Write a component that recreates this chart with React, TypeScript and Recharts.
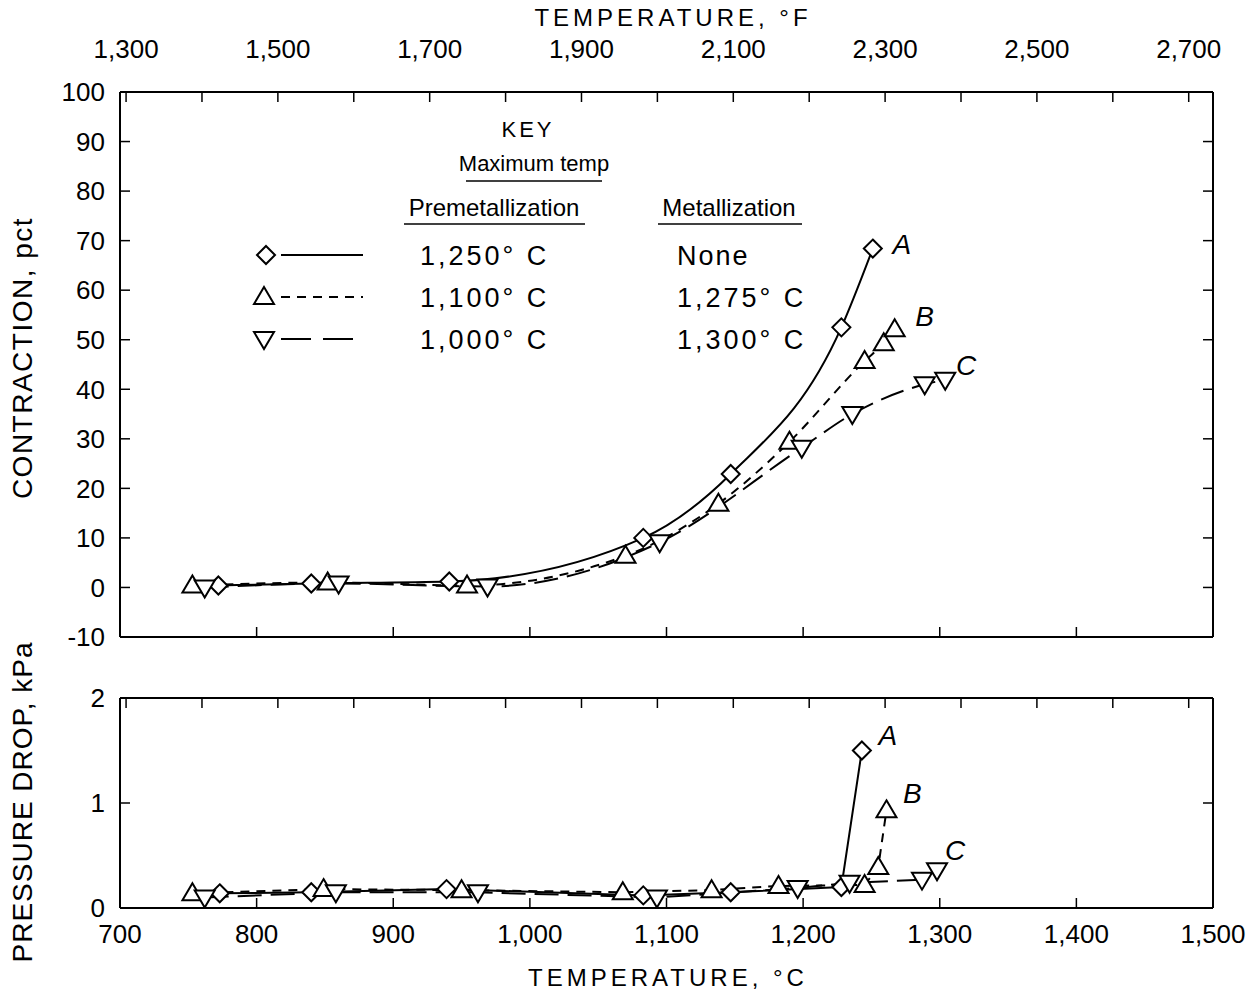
import React from 'react';
import { LineChart, Line, XAxis, YAxis, LabelList } from 'recharts';

const FONT = '"Liberation Sans", Arial, sans-serif';

// ---- axis ticks ----
const celsiusTicks = [700, 800, 900, 1000, 1100, 1200, 1300, 1400, 1500];
const fahrenheitTicks = [1300, 1400, 1500, 1600, 1700, 1800, 1900, 2000, 2100, 2200, 2300, 2400, 2500, 2600, 2700];
const contractionTicks = [-10, 0, 10, 20, 30, 40, 50, 60, 70, 80, 90, 100];
const pressureTicks = [0, 1, 2];

const seriesTags = ['A', 'B', 'C'];

// ---- contraction panel (temperature °C, contraction pct) ----
const contractionTempA = [772, 840, 941, 1083, 1147, 1228, 1251];
const contractionA = [0.4, 0.8, 1.2, 10, 22.9, 52.5, 68.4];
const contractionTempB = [753, 852, 954, 1070, 1138, 1190, 1245, 1259, 1267];
const contractionB = [0.4, 1.0, 0.4, 6.4, 16.9, 29.4, 45.7, 49.3, 52.1];
const contractionTempC = [762, 860, 969, 1095, 1199, 1236, 1289, 1304];
const contractionC = [0, 0.8, 0.2, 9.1, 28.2, 35, 41, 41.9];

// ---- pressure drop panel (temperature °C, kPa) ----
const pressureTempA = [773, 840, 939, 1083, 1147, 1228, 1243];
const pressureA = [0.14, 0.15, 0.18, 0.12, 0.15, 0.2, 1.5];
const pressureTempB = [753, 849, 950, 1068, 1133, 1182, 1245, 1255, 1261];
const pressureB = [0.14, 0.18, 0.17, 0.15, 0.17, 0.21, 0.22, 0.39, 0.93];
const pressureTempC = [762, 858, 962, 1093, 1196, 1234, 1287, 1298];
const pressureC = [0.1, 0.15, 0.15, 0.1, 0.19, 0.24, 0.27, 0.36];

const zip = (xs: number[], ys: number[], tag: string) =>
  xs.map((t, i) => ({ t, v: ys[i], tag: i === xs.length - 1 ? tag : undefined }));

const fToC = (f: number) => ((f - 32) * 5) / 9;
const fahrenheitTicksInC = fahrenheitTicks.map(fToC);
const withComma = (n: number) => (n >= 1000 ? n.toLocaleString('en-US') : String(n));
const fLabel = (c: number) => {
  const f = Math.round((c * 9) / 5 + 32);
  return (f - 1300) % 200 === 0 ? withComma(f) : '';
};

type Shape = 'diamond' | 'up' | 'down';
const Marker = ({ cx, cy, shape }: { cx: number; cy: number; shape: Shape }) => {
  let pts = '';
  if (shape === 'diamond') pts = `${cx},${cy - 9} ${cx + 9},${cy} ${cx},${cy + 9} ${cx - 9},${cy}`;
  else if (shape === 'up') pts = `${cx},${cy - 10} ${cx + 10},${cy + 7} ${cx - 10},${cy + 7}`;
  else pts = `${cx - 10},${cy - 7} ${cx + 10},${cy - 7} ${cx},${cy + 10}`;
  return <polygon points={pts} fill="#fff" stroke="#000" strokeWidth={2} strokeLinejoin="miter" />;
};
const makeDot = (shape: Shape) => (props: any) => {
  const { cx, cy, index } = props;
  if (cx == null || cy == null) return <g key={index} />;
  return (
    <g key={`${shape}-${index}`}>
      <Marker cx={cx} cy={cy} shape={shape} />
    </g>
  );
};

const makeTag = (dx: number, dy: number) => (props: any) => {
  const { x, y, value } = props;
  if (!value) return null;
  return (
    <text
      x={x + dx}
      y={y + dy}
      textAnchor="middle"
      dominantBaseline="central"
      fontFamily={FONT}
      fontStyle="italic"
      fontSize={28}
      fill="#000"
    >
      {value}
    </text>
  );
};

const tickStyle = { fill: '#000', fontSize: 26, fontFamily: FONT };
const axisLine = { stroke: '#000', strokeWidth: 2 };
const tickLine = { stroke: '#000', strokeWidth: 1.5 };
const blank = () => '';

const dashB = '9 7';
const dashC = '24 9';

export default function App() {
  const cA = zip(contractionTempA, contractionA, seriesTags[0]);
  const cB = zip(contractionTempB, contractionB, seriesTags[1]);
  const cC = zip(contractionTempC, contractionC, seriesTags[2]);
  const pA = zip(pressureTempA, pressureA, seriesTags[0]);
  const pB = zip(pressureTempB, pressureB, seriesTags[1]);
  const pC = zip(pressureTempC, pressureC, seriesTags[2]);

  return (
    <div style={{ position: 'absolute', left: 0, top: 0, width: 1255, height: 994, background: '#fff' }}>
      <div style={{ position: 'absolute', left: 0, top: 0 }}>
        <LineChart width={1255} height={660} margin={{ top: 32, right: 32, bottom: 0, left: 60 }}>
          <XAxis
            xAxisId="c"
            dataKey="t"
            type="number"
            domain={[700, 1500]}
            ticks={celsiusTicks}
            orientation="bottom"
            height={23}
            tickSize={-10}
            tickFormatter={blank}
            axisLine={axisLine}
            tickLine={tickLine}
            interval={0}
            allowDataOverflow
          />
          <XAxis
            xAxisId="f"
            dataKey="t"
            type="number"
            domain={[700, 1500]}
            ticks={fahrenheitTicksInC}
            orientation="top"
            height={60}
            tickSize={-10}
            tickMargin={44}
            tickFormatter={fLabel}
            tick={tickStyle}
            axisLine={axisLine}
            tickLine={tickLine}
            interval={0}
            allowDataOverflow
          />
          <YAxis
            yAxisId="l"
            type="number"
            domain={[-10, 100]}
            ticks={contractionTicks}
            orientation="left"
            width={60}
            tickSize={-10}
            tickMargin={25}
            tick={tickStyle}
            axisLine={axisLine}
            tickLine={tickLine}
            interval={0}
            allowDataOverflow
          />
          <YAxis
            yAxisId="r"
            type="number"
            domain={[-10, 100]}
            ticks={contractionTicks}
            orientation="right"
            width={10}
            tickSize={-10}
            tickFormatter={blank}
            axisLine={axisLine}
            tickLine={tickLine}
            interval={0}
            allowDataOverflow
          />
          {/* invisible carrier so the °F axis gets its scale */}
          <Line data={cA} xAxisId="f" yAxisId="r" dataKey="v" stroke="none" dot={false} activeDot={false}
            legendType="none" isAnimationActive={false} />
          <Line data={cA} xAxisId="c" yAxisId="l" dataKey="v" type="monotone" stroke="#000" strokeWidth={2}
            dot={makeDot('diamond')} activeDot={false} isAnimationActive={false}>
            <LabelList dataKey="tag" content={makeTag(29, -4)} />
          </Line>
          <Line data={cB} xAxisId="c" yAxisId="l" dataKey="v" type="monotone" stroke="#000" strokeWidth={2}
            strokeDasharray={dashB} dot={makeDot('up')} activeDot={false} isAnimationActive={false}>
            <LabelList dataKey="tag" content={makeTag(30, -13)} />
          </Line>
          <Line data={cC} xAxisId="c" yAxisId="l" dataKey="v" type="monotone" stroke="#000" strokeWidth={2}
            strokeDasharray={dashC} dot={makeDot('down')} activeDot={false} isAnimationActive={false}>
            <LabelList dataKey="tag" content={makeTag(21, -14)} />
          </Line>
        </LineChart>
      </div>

      <div style={{ position: 'absolute', left: 0, top: 660 }}>
        <LineChart width={1255} height={334} margin={{ top: 28, right: 32, bottom: 46, left: 60 }}>
          <XAxis
            xAxisId="c"
            dataKey="t"
            type="number"
            domain={[700, 1500]}
            ticks={celsiusTicks}
            orientation="bottom"
            height={40}
            tickSize={-10}
            tickMargin={27}
            tickFormatter={(v: number) => withComma(v)}
            tick={tickStyle}
            axisLine={axisLine}
            tickLine={tickLine}
            interval={0}
            allowDataOverflow
          />
          <XAxis
            xAxisId="f"
            dataKey="t"
            type="number"
            domain={[700, 1500]}
            ticks={fahrenheitTicksInC}
            orientation="top"
            height={10}
            tickSize={-10}
            tickFormatter={blank}
            axisLine={axisLine}
            tickLine={tickLine}
            interval={0}
            allowDataOverflow
          />
          <YAxis
            yAxisId="l"
            type="number"
            domain={[0, 2]}
            ticks={pressureTicks}
            orientation="left"
            width={60}
            tickSize={-10}
            tickMargin={25}
            tick={tickStyle}
            axisLine={axisLine}
            tickLine={tickLine}
            interval={0}
            allowDataOverflow
          />
          <YAxis
            yAxisId="r"
            type="number"
            domain={[0, 2]}
            ticks={pressureTicks}
            orientation="right"
            width={10}
            tickSize={-10}
            tickFormatter={blank}
            axisLine={axisLine}
            tickLine={tickLine}
            interval={0}
            allowDataOverflow
          />
          <Line data={pA} xAxisId="f" yAxisId="r" dataKey="v" stroke="none" dot={false} activeDot={false}
            legendType="none" isAnimationActive={false} />
          <Line data={pA} xAxisId="c" yAxisId="l" dataKey="v" type="linear" stroke="#000" strokeWidth={2}
            dot={makeDot('diamond')} activeDot={false} isAnimationActive={false}>
            <LabelList dataKey="tag" content={makeTag(26, -15)} />
          </Line>
          <Line data={pB} xAxisId="c" yAxisId="l" dataKey="v" type="linear" stroke="#000" strokeWidth={2}
            strokeDasharray={dashB} dot={makeDot('up')} activeDot={false} isAnimationActive={false}>
            <LabelList dataKey="tag" content={makeTag(26, -17)} />
          </Line>
          <Line data={pC} xAxisId="c" yAxisId="l" dataKey="v" type="linear" stroke="#000" strokeWidth={2}
            strokeDasharray={dashC} dot={makeDot('down')} activeDot={false} isAnimationActive={false}>
            <LabelList dataKey="tag" content={makeTag(18, -20)} />
          </Line>
        </LineChart>
      </div>

      {/* titles and key */}
      <svg width={1255} height={994} style={{ position: 'absolute', left: 0, top: 0, pointerEvents: 'none' }}>
        <g fontFamily={FONT} fill="#000">
          <text x={673} y={26} fontSize={24} letterSpacing={4} textAnchor="middle">TEMPERATURE, °F</text>
          <text x={668} y={986} fontSize={24} letterSpacing={4} textAnchor="middle">TEMPERATURE, °C</text>
          <text transform="translate(32,358) rotate(-90)" fontSize={28} letterSpacing={1.5} textAnchor="middle">CONTRACTION, pct</text>
          <text transform="translate(32,802) rotate(-90)" fontSize={28} letterSpacing={1} textAnchor="middle">PRESSURE DROP, kPa</text>

          <text x={528} y={137} fontSize={22} letterSpacing={3} textAnchor="middle">KEY</text>
          <text x={534} y={171} fontSize={22} textAnchor="middle">Maximum temp</text>
          <line x1={466} y1={181} x2={602} y2={181} stroke="#000" strokeWidth={1.5} />
          <text x={494} y={216} fontSize={24} textAnchor="middle">Premetallization</text>
          <line x1={404} y1={224} x2={585} y2={224} stroke="#000" strokeWidth={1.5} />
          <text x={729} y={216} fontSize={24} textAnchor="middle">Metallization</text>
          <line x1={658} y1={224} x2={802} y2={224} stroke="#000" strokeWidth={1.5} />

          <Marker cx={266} cy={255} shape="diamond" />
          <line x1={281} y1={255} x2={363} y2={255} stroke="#000" strokeWidth={2} />
          <text x={420} y={265} fontSize={27} letterSpacing={3}>1,250° C</text>
          <text x={677} y={265} fontSize={27} letterSpacing={2}>None</text>

          <Marker cx={264} cy={297} shape="up" />
          <line x1={281} y1={297} x2={363} y2={297} stroke="#000" strokeWidth={2} strokeDasharray={dashB} />
          <text x={420} y={307} fontSize={27} letterSpacing={3}>1,100° C</text>
          <text x={677} y={307} fontSize={27} letterSpacing={3}>1,275° C</text>

          <Marker cx={264} cy={339} shape="down" />
          <line x1={281} y1={339} x2={363} y2={339} stroke="#000" strokeWidth={2} strokeDasharray="30 12" />
          <text x={420} y={349} fontSize={27} letterSpacing={3}>1,000° C</text>
          <text x={677} y={349} fontSize={27} letterSpacing={3}>1,300° C</text>
        </g>
      </svg>
    </div>
  );
}
